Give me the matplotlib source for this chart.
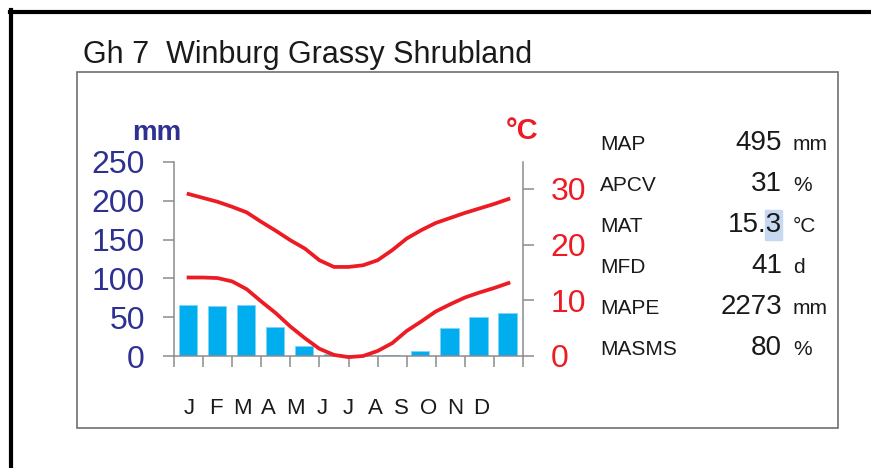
import matplotlib
matplotlib.use('Agg')
import matplotlib.pyplot as plt
from matplotlib.patches import Rectangle
from matplotlib.lines import Line2D
from matplotlib import font_manager
import numpy as np

plt.rcParams['font.family'] = ['Liberation Sans', 'DejaVu Sans']

months = ['J', 'F', 'M', 'A', 'M', 'J', 'J', 'A', 'S', 'O', 'N', 'D']
rain = [65.5, 64.5, 65.5, 37.5, 12.5, 2, 1, 1.5, 7, 36.5, 50, 55.5]

t_pos = np.arange(0.5, 11.51, 0.5)
t_max = [29.1, 28.4, 27.7, 26.8, 25.8, 24.1, 22.5, 20.8, 19.3, 17.2, 16.0, 16.0,
         16.3, 17.2, 19.0, 21.1, 22.6, 23.9, 24.8, 25.7, 26.5, 27.3, 28.2]
t_min = [14.1, 14.1, 14.0, 13.4, 12.0, 9.8, 7.7, 5.3, 3.2, 1.3, 0.2, -0.2,
         0.0, 0.9, 2.3, 4.5, 6.2, 8.0, 9.3, 10.5, 11.4, 12.2, 13.1]

stat_names = ['MAP', 'APCV', 'MAT', 'MFD', 'MAPE', 'MASMS']
stat_values = ['495', '31', '15.3', '41', '2273', '80']
stat_units = ['mm', '%', '°C', 'd', 'mm', '%']

title = 'Gh 7  Winburg Grassy Shrubland'

blue_txt = '#2E3192'
red = '#ED1C24'
bar_col = '#00AEEF'
grey = '#8C8C8C'

names = {f.name for f in font_manager.fontManager.ttflist}
narrow = 'Liberation Sans Narrow' if 'Liberation Sans Narrow' in names else 'Liberation Sans'

W, H = 871, 468
def fx(px):
    return px / W
def fy(py):
    return 1 - py / H

fig = plt.figure(figsize=(W / 100, H / 100), dpi=100)

ax = fig.add_axes([fx(174), fy(356), (523 - 174) / W, (356 - 162) / H])
ax.bar(np.arange(12) + 0.47, rain, width=0.63, color=bar_col, edgecolor='#80D4F5', linewidth=0.6)
ax.set_xlim(0, 12)
ax.set_ylim(0, 250)
ax.set_xticks(range(13))
ax.set_xticklabels([])
ax.set_yticks(range(0, 251, 50))
for s in ['top', 'right']:
    ax.spines[s].set_visible(False)
for s in ['left', 'bottom']:
    ax.spines[s].set_color(grey)
    ax.spines[s].set_linewidth(1.1)
ax.tick_params(axis='y', direction='out', length=8, width=1.1, color=grey,
               labelsize=23, labelcolor=blue_txt, pad=13)
ax.tick_params(axis='x', direction='out', length=8, width=1.1, color=grey)

ax2 = ax.twinx()
ax2.set_ylim(0, 34.85)
ax2.set_yticks([0, 10, 20, 30])
for s in ['top', 'left', 'bottom']:
    ax2.spines[s].set_visible(False)
ax2.spines['right'].set_color(grey)
ax2.spines['right'].set_linewidth(1.1)
ax2.tick_params(axis='y', direction='out', length=8, width=1.1, color=grey,
                labelsize=23, labelcolor=red, pad=12)
ax2.plot(t_pos, t_max, color=red, lw=2.7, clip_on=False)
ax2.plot(t_pos, t_min, color=red, lw=2.7, clip_on=False)

# axis unit labels
fig.text(fx(157), fy(133), 'mm', ha='center', va='center', fontsize=20,
         fontweight='bold', family=narrow, color=blue_txt)
fig.text(fx(522), fy(131), '°C', ha='center', va='center', fontsize=21,
         fontweight='bold', family=narrow, color=red)

# month letters
for i, m in enumerate(months):
    fig.text(fx(189 + 26.6 * i), fy(408), m, ha='center', va='center',
             fontsize=16, color='#1a1a1a')

# statistics block
fig.patches.append(Rectangle((fx(765), fy(240)), (782 - 765) / W, 30 / H,
                             transform=fig.transFigure, color='#C6D9F1', zorder=0.5))
for i in range(len(stat_names)):
    yb = fy(150 + 41 * i)
    fig.text(fx(600), yb, stat_names[i], ha='left', va='baseline', fontsize=15, color='#1a1a1a')
    fig.text(fx(782), yb, stat_values[i], ha='right', va='baseline', fontsize=20, color='#1a1a1a')
    fig.text(fx(793), yb, stat_units[i], ha='left', va='baseline', fontsize=15, color='#1a1a1a')

fig.text(fx(83), fy(63), title, ha='left', va='baseline', fontsize=22, color='#1a1a1a')

# inner grey box and outer black frame
fig.patches.append(Rectangle((fx(77), fy(428)), (838 - 77) / W, (428 - 72) / H, fill=False,
                             ec='#707070', lw=1.2, transform=fig.transFigure))
fig.lines.append(Line2D([fx(11), fx(11)], [0, fy(10)], color='black', lw=3,
                        transform=fig.transFigure))
fig.lines.append(Line2D([fx(9.5), 1], [fy(11.5), fy(11.5)], color='black', lw=3,
                        transform=fig.transFigure))

fig.savefig('out.png', dpi=100)
